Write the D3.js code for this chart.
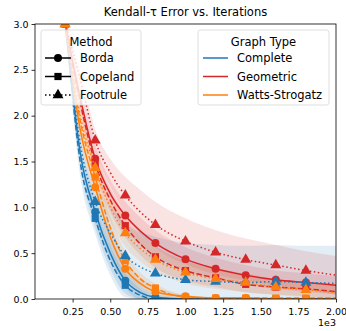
<!DOCTYPE html>
<html>
<head>
<meta charset="utf-8">
<script src="https://d3js.org/d3.v7.min.js"></script>
<style>
  body { margin: 0; background: #fff; }
  text { font-family: "DejaVu Sans", sans-serif; fill: #000; }
</style>
</head>
<body>
<div id="chart"></div>
<script>
// iterations (x) shared by every series
var iterations = [200, 300, 400, 500, 600, 700, 800, 1000, 1200, 1400, 1600, 1800, 2000];

// mean error, Complete graph
var completeBorda    = [3.05, 1.60, 0.95, 0.50, 0.20, 0.07, 0.02, 0.00, 0.00, 0.00, 0.00, 0.00, 0.00];
var completeCopeland = [3.10, 1.50, 0.88, 0.42, 0.15, 0.04, 0.00, 0.00, 0.00, 0.00, 0.00, 0.00, 0.00];
var completeFootrule = [3.05, 1.70, 1.06, 0.72, 0.47, 0.35, 0.28, 0.21, 0.19, 0.18, 0.19, 0.18, 0.17];
// mean error, Geometric graph
var geometricBorda    = [3.00, 2.20, 1.53, 1.15, 0.91, 0.74, 0.61, 0.435, 0.33, 0.26, 0.21, 0.18, 0.15];
var geometricCopeland = [3.00, 2.15, 1.48, 1.08, 0.80, 0.60, 0.46, 0.31, 0.23, 0.16, 0.13, 0.11, 0.08];
var geometricFootrule = [3.00, 2.40, 1.73, 1.38, 1.13, 0.95, 0.81, 0.63, 0.51, 0.43, 0.37, 0.31, 0.26];
// mean error, Watts-Strogatz graph
var wattsBorda    = [3.00, 1.85, 1.22, 0.68, 0.33, 0.17, 0.08, 0.03, 0.01, 0.01, 0.00, 0.00, 0.00];
var wattsCopeland = [3.00, 1.95, 1.33, 0.78, 0.42, 0.22, 0.12, 0.02, 0.01, 0.01, 0.01, 0.01, 0.01];
var wattsFootrule = [3.00, 2.00, 1.43, 1.00, 0.72, 0.55, 0.43, 0.29, 0.22, 0.18, 0.13, 0.10, 0.07];

// spread (std) for the shaded bands
var completeBordaStd    = [0.12, 0.16, 0.17, 0.17, 0.14, 0.08, 0.04, 0.01, 0.00, 0.00, 0.00, 0.00, 0.00];
var completeCopelandStd = [0.12, 0.16, 0.17, 0.16, 0.13, 0.07, 0.03, 0.01, 0.00, 0.00, 0.00, 0.00, 0.00];
var completeFootruleStd = [0.12, 0.16, 0.22, 0.30, 0.35, 0.38, 0.40, 0.40, 0.40, 0.40, 0.40, 0.40, 0.41];
var geometricBordaStd    = [0.10, 0.12, 0.15, 0.15, 0.15, 0.15, 0.14, 0.13, 0.12, 0.11, 0.10, 0.10, 0.10];
var geometricCopelandStd = [0.10, 0.12, 0.13, 0.13, 0.13, 0.12, 0.12, 0.11, 0.10, 0.09, 0.08, 0.08, 0.07];
var geometricFootruleStd = [0.10, 0.10, 0.12, 0.15, 0.20, 0.24, 0.25, 0.25, 0.24, 0.23, 0.22, 0.21, 0.21];
var wattsBordaStd    = [0.10, 0.12, 0.12, 0.12, 0.10, 0.07, 0.05, 0.02, 0.01, 0.01, 0.00, 0.00, 0.00];
var wattsCopelandStd = [0.10, 0.12, 0.12, 0.12, 0.10, 0.07, 0.05, 0.02, 0.01, 0.01, 0.01, 0.01, 0.01];
var wattsFootruleStd = [0.10, 0.12, 0.15, 0.15, 0.15, 0.14, 0.13, 0.12, 0.11, 0.10, 0.09, 0.08, 0.08];

var methods = ["Borda", "Copeland", "Footrule"];
var graphTypes = ["Complete", "Geometric", "Watts-Strogatz"];
var xTicks = [250, 500, 750, 1000, 1250, 1500, 1750, 2000];
var yTicks = [0, 0.5, 1, 1.5, 2, 2.5, 3];

var colors = {"Complete": "#1f77b4", "Geometric": "#d62728", "Watts-Strogatz": "#ff7f0e"};
var dashes = {"Borda": null, "Copeland": "5.5,2.4", "Footrule": "1.5,2.5"};
var symbols = {"Borda": d3.symbolCircle, "Copeland": d3.symbolSquare, "Footrule": d3.symbolTriangle};
var symbolSize = {"Borda": 50, "Copeland": 52, "Footrule": 52};

var seriesData = {
  "Complete": {"Borda": [completeBorda, completeBordaStd], "Copeland": [completeCopeland, completeCopelandStd], "Footrule": [completeFootrule, completeFootruleStd]},
  "Geometric": {"Borda": [geometricBorda, geometricBordaStd], "Copeland": [geometricCopeland, geometricCopelandStd], "Footrule": [geometricFootrule, geometricFootruleStd]},
  "Watts-Strogatz": {"Borda": [wattsBorda, wattsBordaStd], "Copeland": [wattsCopeland, wattsCopelandStd], "Footrule": [wattsFootrule, wattsFootruleStd]}
};

// set the dimensions and margins of the graph
var margin = {top: 24, right: 10, bottom: 32, left: 35},
  width = 346 - margin.left - margin.right,
  height = 331 - margin.top - margin.bottom;

var svgRoot = d3.select("#chart")
  .append("svg")
  .attr("width", 346)
  .attr("height", 331);

var svg = svgRoot.append("g")
  .attr("transform", "translate(" + margin.left + "," + margin.top + ")");

svgRoot.append("defs").append("clipPath")
  .attr("id", "plotclip")
  .append("rect")
  .attr("width", width)
  .attr("height", height);

var x = d3.scaleLinear().domain([0, 2000]).range([0, width]);
var y = d3.scaleLinear().domain([0, 3]).range([height, 0]);

// bands first, then lines/markers
var plot = svg.append("g").attr("clip-path", "url(#plotclip)");
var bandLayer = plot.append("g");
var lineLayer = plot.append("g");

var area = d3.area()
  .curve(d3.curveMonotoneX)
  .x(function(d) { return x(d.it); })
  .y0(function(d) { return y(Math.max(0, d.v - d.s)); })
  .y1(function(d) { return y(d.v + d.s); });

var line = d3.line()
  .curve(d3.curveMonotoneX)
  .x(function(d) { return x(d.it); })
  .y(function(d) { return y(d.v); });

methods.forEach(function(m) {
  graphTypes.forEach(function(g) {
    var vals = seriesData[g][m][0], sd = seriesData[g][m][1];
    var pts = iterations.map(function(it, i) { return {it: it, v: vals[i], s: sd[i]}; });

    bandLayer.append("path")
      .datum(pts)
      .attr("d", area)
      .attr("fill", colors[g])
      .attr("fill-opacity", 0.13);

    lineLayer.append("path")
      .datum(pts)
      .attr("d", line)
      .attr("fill", "none")
      .attr("stroke", colors[g])
      .attr("stroke-width", 1.5)
      .attr("stroke-dasharray", dashes[m]);

    lineLayer.selectAll(null)
      .data(pts.filter(function(d) { return d.it % 200 === 0 && d.it < 2000; }))
      .enter()
      .append("path")
      .attr("transform", function(d) { return "translate(" + x(d.it) + "," + y(d.v) + ")"; })
      .attr("d", d3.symbol().type(symbols[m]).size(symbolSize[m]))
      .attr("fill", colors[g]);
  });
});

// axes
var xAxis = svg.append("g")
  .attr("transform", "translate(0," + height + ")")
  .call(d3.axisBottom(x).tickValues(xTicks).tickSize(3.5).tickFormat(function(d) { return (d / 1000).toFixed(2); }));
var yAxis = svg.append("g")
  .call(d3.axisLeft(y).tickValues(yTicks).tickSize(3.5).tickFormat(d3.format(".1f")));
[xAxis, yAxis].forEach(function(a) {
  a.select(".domain").remove();
  a.selectAll("text").style("font-family", "DejaVu Sans").style("font-size", "9.5px");
  a.selectAll("line").attr("stroke", "#000").attr("stroke-width", 0.8);
});
xAxis.selectAll("text").attr("dy", "0.95em");

svg.append("rect")
  .attr("width", width)
  .attr("height", height)
  .attr("fill", "none")
  .attr("stroke", "#000")
  .attr("stroke-width", 0.8);

svg.append("text")
  .attr("x", width)
  .attr("y", height + 27)
  .attr("text-anchor", "end")
  .style("font-size", "9.5px")
  .text("1e3");

svgRoot.append("text")
  .attr("x", margin.left + width / 2)
  .attr("y", 16)
  .attr("text-anchor", "middle")
  .style("font-size", "11.5px")
  .text("Kendall-\u03c4 Error vs. Iterations");

// legends
function legendBox(x0, y0, w, h, title) {
  var g = svgRoot.append("g").attr("transform", "translate(" + x0 + "," + y0 + ")");
  g.append("rect")
    .attr("width", w).attr("height", h)
    .attr("rx", 2.5)
    .attr("fill", "#fff").attr("fill-opacity", 0.8)
    .attr("stroke", "#d6d6d6").attr("stroke-width", 0.8);
  g.append("text")
    .attr("x", w / 2).attr("y", 16)
    .attr("text-anchor", "middle")
    .style("font-size", "11.5px")
    .text(title);
  return g;
}

var methodLegend = legendBox(41, 30, 100, 75, "Method");
methods.forEach(function(m, i) {
  var yy = 28 + i * 18.5;
  methodLegend.append("line")
    .attr("x1", 4).attr("x2", 30).attr("y1", yy).attr("y2", yy)
    .attr("stroke", "#000").attr("stroke-width", 1.5)
    .attr("stroke-dasharray", m === "Copeland" ? null : dashes[m]);
  methodLegend.append("path")
    .attr("transform", "translate(17," + yy + ")")
    .attr("d", d3.symbol().type(symbols[m]).size(symbolSize[m]))
    .attr("fill", "#000");
  methodLegend.append("text")
    .attr("x", 39).attr("y", yy + 4)
    .style("font-size", "11.5px")
    .text(m);
});

var graphLegend = legendBox(198, 30, 131, 75, "Graph Type");
graphTypes.forEach(function(g, i) {
  var yy = 28 + i * 18.5;
  graphLegend.append("line")
    .attr("x1", 5).attr("x2", 30).attr("y1", yy).attr("y2", yy)
    .attr("stroke", colors[g]).attr("stroke-width", 1.5);
  graphLegend.append("text")
    .attr("x", 39).attr("y", yy + 4)
    .style("font-size", "11.5px")
    .text(g);
});
</script>
</body>
</html>
